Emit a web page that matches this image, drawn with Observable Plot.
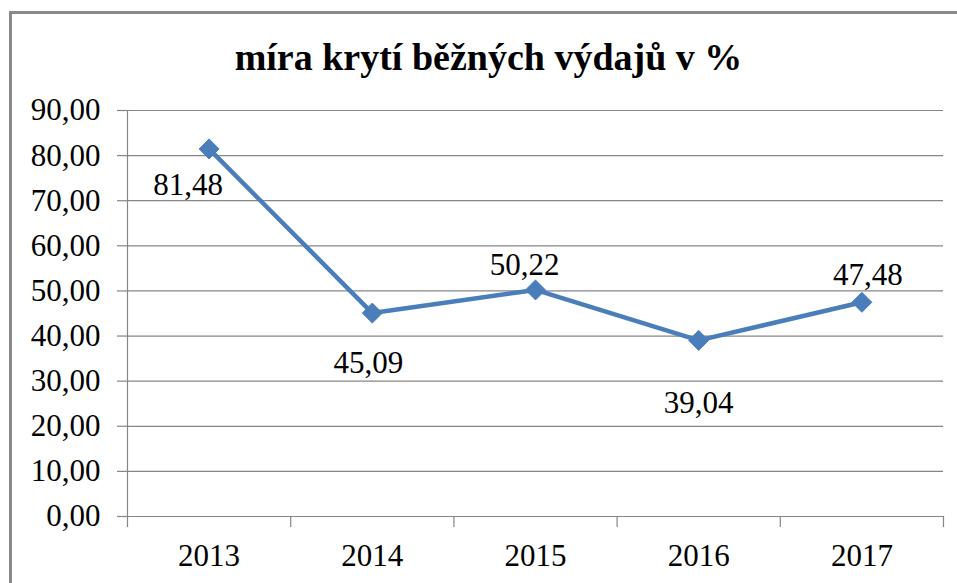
<!DOCTYPE html>
<html>
<head>
<meta charset="utf-8">
<script src="https://cdn.jsdelivr.net/npm/d3@7"></script>
<script src="https://cdn.jsdelivr.net/npm/@observablehq/plot@0.6"></script>
<style>
  html, body { margin: 0; padding: 0; background: #fff; overflow: hidden; }
  #page { position: relative; width: 957px; height: 583px; }
  #frame { position: absolute; left: 9px; top: 11px; width: 960px; height: 590px;
           border-top: 3px solid #898989; border-left: 3px solid #898989; box-sizing: border-box; }
  #title { position: absolute; left: 10px; top: 38px; width: 957px; text-align: center;
           font-family: "Liberation Serif", "Times New Roman", serif; font-weight: bold;
           font-size: 38px; line-height: 38px; color: #000; white-space: nowrap; }
  #chart { position: absolute; left: 12px; top: 90px; }
  #chart svg text { font-family: "Liberation Serif", "Times New Roman", serif; }
</style>
</head>
<body>
<div id="page">
  <div id="frame"></div>
  <div id="title">míra krytí běžných výdajů v %</div>
  <div id="chart"></div>
</div>
<script>
const years = [2013, 2014, 2015, 2016, 2017];
const values = [81.48, 45.09, 50.22, 39.04, 47.48];
const yTicks = [0, 10, 20, 30, 40, 50, 60, 70, 80, 90];

// label nudges (style, pixels)
const labelNudge = [[-21, 36], [-4, 50], [-11, -25], [0, 63], [6, -27]];

const fmt = d => d.toFixed(2).replace(".", ",");
const data = years.map((y, i) => ({year: y, value: values[i]}));
const boundaries = [years[0] - 0.5, ...years.map(y => y + 0.5)];

const gray = "#868686";
const blue = "#4a7ebb";
const font = "Liberation Serif, Times New Roman, serif";

const plot = Plot.plot({
  width: 945,
  height: 493,
  marginLeft: 115,
  marginRight: 14,
  marginTop: 20,
  marginBottom: 67,
  style: "font-family: 'Liberation Serif', 'Times New Roman', serif; background: transparent;",
  x: {domain: [boundaries[0], boundaries[boundaries.length - 1]]},
  y: {domain: [0, 90]},
  marks: [
    Plot.gridY(yTicks, {stroke: gray, strokeOpacity: 1, strokeWidth: 1.2}),
    Plot.axisY(yTicks, {tickSize: 10, tickPadding: 17, tickFormat: fmt, fontSize: 31, fontFamily: font,
                        stroke: gray, strokeWidth: 1.2, fill: "#000", label: null}),
    Plot.ruleX([boundaries[0]], {y1: 0, y2: 90, stroke: gray, strokeWidth: 1.2}),
    Plot.axisX(boundaries, {tickSize: 11, tickFormat: () => "", stroke: gray, strokeWidth: 1.2, label: null}),
    Plot.axisX(years, {tickSize: 0, tickPadding: 27, tickFormat: d => String(d), fontSize: 31, fontFamily: font,
                       fill: "#000", label: null}),
    Plot.line(data, {x: "year", y: "value", stroke: blue, strokeWidth: 4.5}),
    Plot.dot(data, {x: "year", y: "value", symbol: "diamond2", r: 9, fill: blue, stroke: blue, strokeWidth: 1}),
    ...data.map((d, i) => Plot.text([d], {
      x: "year", y: "value", text: v => fmt(v.value),
      dx: labelNudge[i][0], dy: labelNudge[i][1],
      fontSize: 31, fontFamily: font, fill: "#000"
    }))
  ]
});
document.getElementById("chart").appendChild(plot);
</script>
</body>
</html>
